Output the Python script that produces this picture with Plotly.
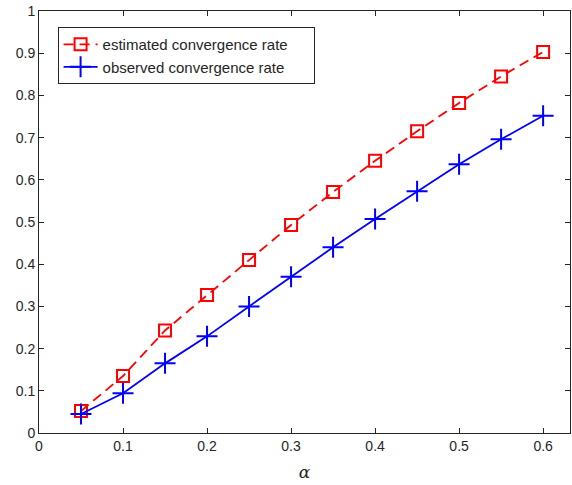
import plotly.graph_objects as go

alpha = [0.05, 0.10, 0.15, 0.20, 0.25, 0.30, 0.35, 0.40, 0.45, 0.50, 0.55, 0.60]
estimated = [0.052, 0.135, 0.243, 0.327, 0.410, 0.493, 0.571, 0.645, 0.715, 0.782, 0.845, 0.903]
observed = [0.045, 0.094, 0.165, 0.229, 0.300, 0.370, 0.440, 0.507, 0.573, 0.637, 0.696, 0.752]
x_ticks = [0, 0.1, 0.2, 0.3, 0.4, 0.5, 0.6]
x_labels = ["0", "0.1", "0.2", "0.3", "0.4", "0.5", "0.6"]
y_ticks = [0, 0.1, 0.2, 0.3, 0.4, 0.5, 0.6, 0.7, 0.8, 0.9, 1]
y_labels = ["0", "0.1", "0.2", "0.3", "0.4", "0.5", "0.6", "0.7", "0.8", "0.9", "1"]
names = ["estimated convergence rate", "observed convergence rate"]

pad = "\u00a0" * 5
fig = go.Figure()
fig.add_trace(go.Scatter(
    x=alpha, y=estimated, mode="lines+markers", name=names[0] + pad,
    line=dict(color="red", width=1.8, dash="10px,6px"),
    marker=dict(symbol="square-open", size=12, color="red", line=dict(width=2)),
))
fig.add_trace(go.Scatter(
    x=alpha, y=observed, mode="lines+markers", name=names[1] + pad,
    line=dict(color="blue", width=1.8),
    marker=dict(symbol="cross-thin-open", size=15, color="blue", line=dict(width=2, color="blue")),
))

axis_common = dict(
    showgrid=False, zeroline=False, showline=True, linecolor="#262626", linewidth=1,
    mirror="ticks", ticks="inside", ticklen=5, tickcolor="#262626", automargin=False,
    tickfont=dict(family="Liberation Sans, Arial, sans-serif", size=14, color="#262626"),
)
fig.update_xaxes(range=[0, 0.632], tickvals=x_ticks, ticktext=x_labels,
                 title=dict(text="<i>α</i>", font=dict(family="DejaVu Serif, serif", size=17, color="#262626"), standoff=13),
                 **axis_common)
fig.update_yaxes(range=[0, 1], tickvals=y_ticks, ticktext=y_labels, **axis_common)

fig.update_layout(
    width=572, height=485,
    margin=dict(l=39, r=2, t=11, b=52, autoexpand=False),
    plot_bgcolor="white", paper_bgcolor="white",
    showlegend=True,
    legend=dict(x=0.035, y=0.962, xanchor="left", yanchor="top",
                bgcolor="white", bordercolor="#262626", borderwidth=1,
                font=dict(family="Liberation Sans, Arial, sans-serif", size=15, color="#262626"),
                tracegroupgap=0, itemwidth=34),
)
fig.write_html("out.html", config={"displayModeBar": False},
               post_script="document.body.style.margin='0';")
